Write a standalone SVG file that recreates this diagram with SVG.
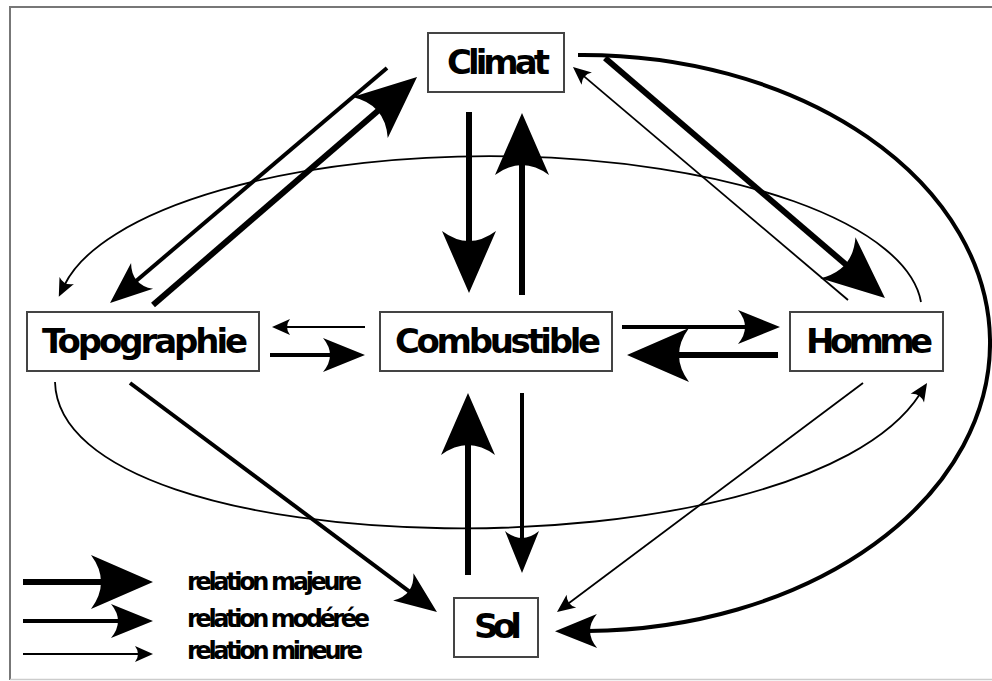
<svg xmlns="http://www.w3.org/2000/svg" width="992" height="681" viewBox="0 0 992 681">
<style>
.box{fill:#fff;stroke:#444;stroke-width:2}
.lbl{font-family:"DejaVu Sans","Liberation Sans",sans-serif;font-weight:bold;font-size:34px;fill:#000}
.leg{font-family:"DejaVu Sans","Liberation Sans",sans-serif;font-weight:bold;font-size:24px;fill:#000}
.maj{fill:none;stroke:#000;stroke-width:6;marker-end:url(#hMaj)}
.mod{fill:none;stroke:#000;stroke-width:4;marker-end:url(#hMod)}
.min{fill:none;stroke:#000;stroke-width:1.8;marker-end:url(#hMin)}
</style>
<defs>
<marker id="hMaj" markerUnits="userSpaceOnUse" markerWidth="80" markerHeight="60" refX="0" refY="0" orient="auto" overflow="visible"><path d="M50,0 L-12,-27 Q8,0 -12,27 Z" fill="#000"/></marker>
<marker id="hMod" markerUnits="userSpaceOnUse" markerWidth="60" markerHeight="40" refX="0" refY="0" orient="auto" overflow="visible"><path d="M33,0 L-9,-17 Q5,0 -9,17 Z" fill="#000"/></marker>
<marker id="hMin" markerUnits="userSpaceOnUse" markerWidth="30" markerHeight="20" refX="0" refY="0" orient="auto" overflow="visible"><path d="M13,0 L-5,-8 Q1,0 -5,8 Z" fill="#000"/></marker>
</defs>
<rect width="992" height="681" fill="#fff"/>
<g id="frame" fill="none">
<line x1="10" y1="7" x2="992" y2="7" stroke="#777" stroke-width="2"/>
<line x1="10" y1="6" x2="10" y2="680" stroke="#777" stroke-width="2"/>
<line x1="10" y1="679.5" x2="992" y2="679.5" stroke="#ccc" stroke-width="1.5"/>
</g>
<g id="connectors">
<path class="min" d="M921,302 A432,156 0 0 0 64.5,285"/>
<path class="min" d="M55,382 C60,570 800,580 920,394"/>
<path class="mod" d="M578,55 A407,288 0 0 1 588,631"/>
<path class="maj" d="M469,112 L469,243"/>
<path class="maj" d="M522,295 L522,163"/>
<path class="maj" d="M468,575 L468,443"/>
<path class="mod" d="M522,393 L522,540"/>
<path class="min" d="M365,327 L285,327"/>
<path class="mod" d="M270,355 L332,355"/>
<path class="mod" d="M622,327 L747,327"/>
<path class="maj" d="M778,355 L677,355"/>
<path class="mod" d="M387,68 L135.2,281.7"/>
<path class="maj" d="M153,305 L379.2,109.7"/>
<path class="maj" d="M605,58 L847,265.5"/>
<path class="min" d="M848,300 L582.9,75.4"/>
<path class="mod" d="M130,383 L410.5,592.3"/>
<path class="min" d="M863,383 L567.4,604.2"/>
</g>
<g id="climat"><rect class="box" x="428" y="33" width="136" height="59"/><text class="lbl" x="447" y="74" textLength="103" lengthAdjust="spacing">Climat</text></g>
<g id="topographie"><rect class="box" x="27" y="312" width="232" height="59"/><text class="lbl" x="42" y="353" textLength="206" lengthAdjust="spacing">Topographie</text></g>
<g id="combustible"><rect class="box" x="380" y="312" width="232" height="59"/><text class="lbl" x="395" y="353" textLength="206" lengthAdjust="spacing">Combustible</text></g>
<g id="homme"><rect class="box" x="790" y="312" width="153" height="59"/><text class="lbl" x="806" y="353" textLength="127" lengthAdjust="spacing">Homme</text></g>
<g id="sol"><rect class="box" x="454" y="598" width="84" height="59"/><text class="lbl" x="474" y="638" textLength="48" lengthAdjust="spacing">Sol</text></g>
<g id="legend">
<path class="maj" d="M23,582 L103,582"/>
<path class="mod" d="M23,621 L120,621"/>
<path class="min" d="M23,654 L140,654"/>
<text class="leg" x="187" y="590" textLength="175" lengthAdjust="spacing">relation majeure</text>
<text class="leg" x="187" y="627" textLength="183" lengthAdjust="spacing">relation modérée</text>
<text class="leg" x="187" y="659" textLength="176" lengthAdjust="spacing">relation mineure</text>
</g>
</svg>
